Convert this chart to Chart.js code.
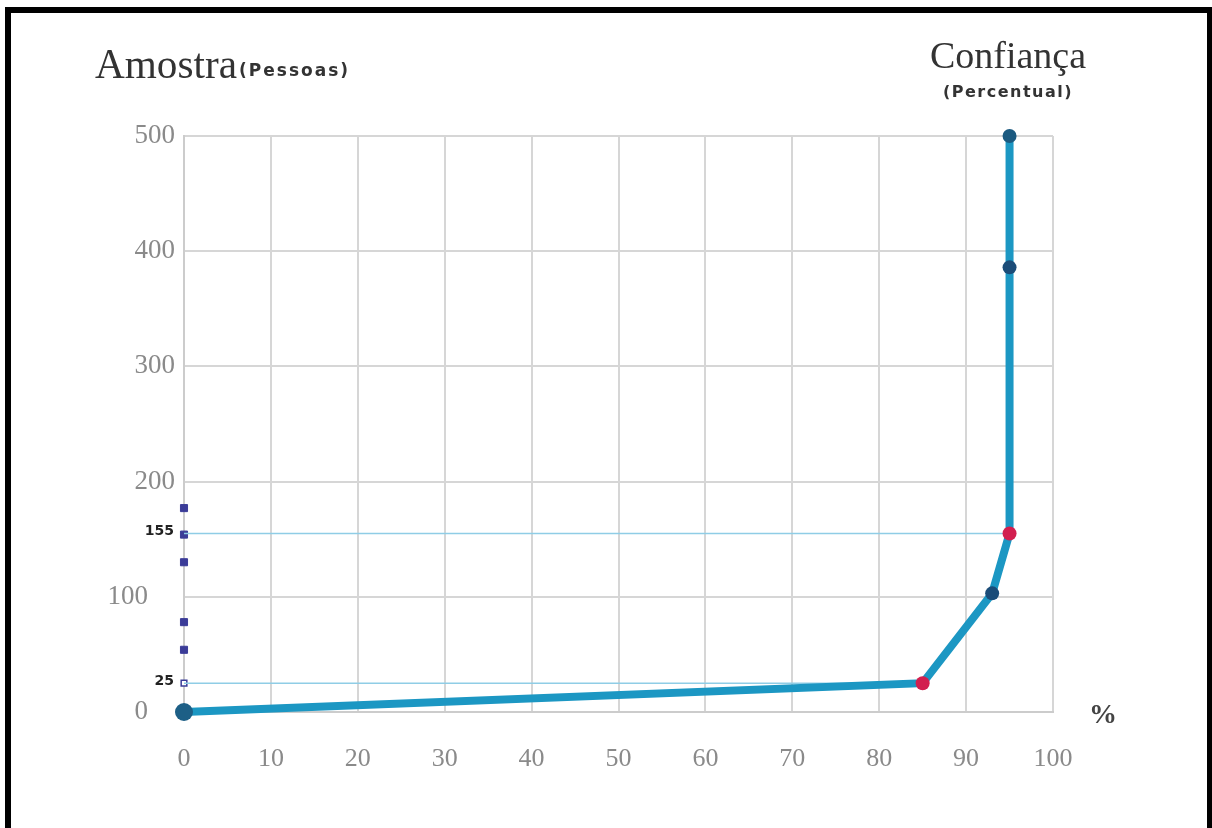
<!DOCTYPE html>
<html>
<head>
<meta charset="utf-8">
<script src="https://cdn.jsdelivr.net/npm/chart.js@4"></script>
<style>
  html, body { margin: 0; padding: 0; background: #fff; }
  #wrap { width: 1212px; height: 828px; position: relative; }
</style>
</head>
<body>
<div id="wrap"><canvas id="chart" width="1212" height="828"></canvas></div>
<script>
// Confiança (%) x Amostra (pessoas)
const confianca = [0, 85, 93, 95, 95, 95];
const amostra = [0, 25, 103, 155, 386, 500];
const pontoCores = ['#1d5f86', '#d21f4f', '#1b4c78', '#d21f4f', '#1b4c78', '#1b5a80'];
const pontoRaios = [9, 7, 7, 7, 7, 7];

// linhas-guia e marcas no eixo vertical
const guiaValores = [155, 25];
const guiaConfianca = [95, 85];
const marcasY = [177, 154, 130, 78, 54];
const marcaAberta = [25];

const xMin = 0, xMax = 100, xPasso = 10;
const yMin = 0, yMax = 500, yPasso = 100;

const decoracao = {
  id: 'decoracao',
  beforeDraw(chart) {
    const ctx = chart.ctx;
    ctx.save();
    ctx.fillStyle = '#fff';
    ctx.fillRect(0, 0, chart.width, chart.height);
    ctx.fillStyle = '#000';
    ctx.fillRect(5, 7, 1207, 6);
    ctx.fillRect(5, 7, 6, 821);
    ctx.fillRect(1207, 7, 5, 821);
    ctx.restore();
  },
  afterDraw(chart) {
    const ctx = chart.ctx;
    const y = chart.scales.y;
    ctx.save();
    ctx.fillStyle = '#333';
    ctx.textBaseline = 'alphabetic';
    ctx.textAlign = 'left';
    ctx.font = '42px "Liberation Serif"';
    ctx.fillText('Amostra', 95, 78, 142);

    ctx.font = 'bold 17px "DejaVu Sans"';
    ctx.letterSpacing = '2px';
    ctx.fillText('(Pessoas)', 239, 76, 120);

    ctx.letterSpacing = '0px';
    ctx.textAlign = 'center';
    ctx.font = '38px "Liberation Serif"';
    ctx.fillText('Confiança', 1008, 68, 160);

    ctx.font = 'bold 16px "DejaVu Sans"';
    ctx.letterSpacing = '1.5px';
    ctx.fillText('(Percentual)', 1008, 97, 148);
    ctx.letterSpacing = '0px';

    ctx.font = 'bold 28px "Liberation Serif"';
    ctx.fillStyle = '#444';
    ctx.textBaseline = 'middle';
    ctx.fillText('%', 1103, 716);

    ctx.font = 'bold 14px "DejaVu Sans"';
    ctx.fillStyle = '#222';
    ctx.textAlign = 'right';
    guiaValores.forEach(v => {
      ctx.fillText(String(v), 174, y.getPixelForValue(v) - 2);
    });
    ctx.restore();
  }
};

new Chart(document.getElementById('chart'), {
  type: 'line',
  data: {
    datasets: [
      {
        label: 'Amostra',
        data: confianca.map((c, i) => ({ x: c, y: amostra[i] })),
        borderColor: '#1c97c3',
        borderWidth: 8,
        pointRadius: pontoRaios,
        pointBackgroundColor: pontoCores,
        pointBorderColor: pontoCores,
        pointBorderWidth: 0,
        tension: 0,
        clip: false
      },
      ...guiaValores.map((v, i) => ({
        label: 'guia ' + v,
        data: [{ x: 0, y: v }, { x: guiaConfianca[i], y: v }],
        borderColor: '#8fcde6',
        borderWidth: 1.5,
        pointRadius: 0,
        clip: false
      })),
      {
        label: 'marcas',
        data: marcasY.map(v => ({ x: 0, y: v })),
        showLine: false,
        pointStyle: 'rect',
        pointRadius: 5,
        pointBackgroundColor: '#3b3c98',
        pointBorderColor: '#3b3c98',
        clip: false
      },
      {
        label: 'marca aberta',
        data: marcaAberta.map(v => ({ x: 0, y: v })),
        showLine: false,
        pointStyle: 'rect',
        pointRadius: 4,
        pointBackgroundColor: '#fff',
        pointBorderColor: '#3b3c98',
        pointBorderWidth: 1.5,
        clip: false
      }
    ]
  },
  options: {
    responsive: false,
    animation: false,
    layout: { padding: { top: 136, right: 159, bottom: 0, left: 0 } },
    plugins: {
      legend: { display: false },
      tooltip: { enabled: false }
    },
    scales: {
      x: {
        type: 'linear',
        min: xMin,
        max: xMax,
        afterFit: (s) => { s.height = 116; },
        ticks: {
          stepSize: xPasso,
          padding: 32,
          color: '#8a8a8a',
          font: { family: 'Liberation Serif', size: 26 }
        },
        grid: { color: '#d6d6d6', lineWidth: 2, drawTicks: false },
        border: { color: '#cccccc', width: 2 }
      },
      y: {
        type: 'linear',
        min: yMin,
        max: yMax,
        afterFit: (s) => { s.width = 184; },
        ticks: {
          stepSize: yPasso,
          padding: 9,
          color: '#8a8a8a',
          font: { family: 'Liberation Serif', size: 27 },
          // 0 e 100 ficam mais à esquerda para dar lugar às marcas 25 e 155
          callback: (v) => (v === 0 || v === 100) ? v + '\u2002\u2002' : String(v)
        },
        grid: { color: '#d6d6d6', lineWidth: 2, drawTicks: false },
        border: { color: '#cccccc', width: 2 }
      }
    }
  },
  plugins: [decoracao]
});
</script>
</body>
</html>
